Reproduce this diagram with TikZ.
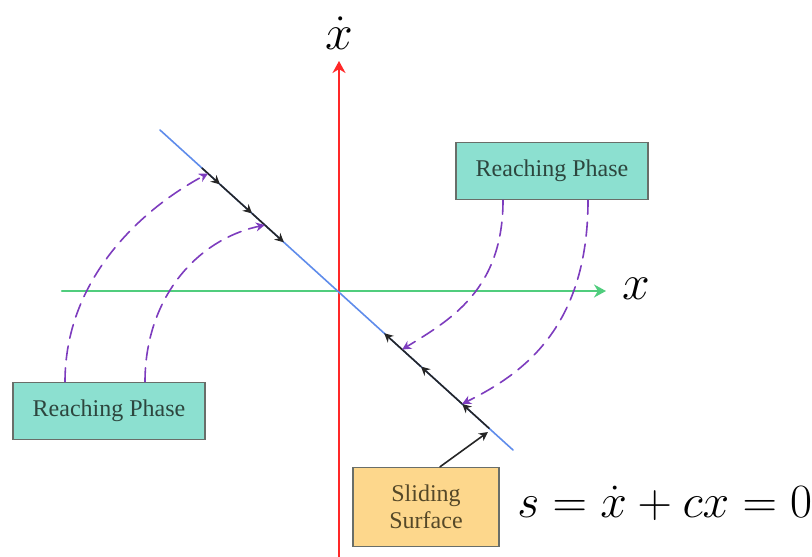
\documentclass[tikz,border=0pt]{standalone}
\usepackage{amsmath,amssymb}
\usepackage{fontspec}
\setmainfont{Liberation Serif}
\usepackage{tikz}
\usetikzlibrary{arrows.meta,calc}
\usepackage{xcolor}
\definecolor{axred}{RGB}{255,40,40}
\definecolor{axgreen}{RGB}{80,205,125}
\definecolor{surfblue}{RGB}{95,140,235}
\definecolor{reachpurple}{RGB}{125,60,190}
\definecolor{phasefill}{RGB}{140,224,208}
\definecolor{slidefill}{RGB}{253,215,140}
\definecolor{boxedge}{RGB}{105,110,105}
\definecolor{phasetext}{RGB}{45,70,62}
\definecolor{slidetext}{RGB}{85,72,40}

\begin{document}
\begin{tikzpicture}[x=0.5pt,y=-0.5pt,>={Stealth[length=4.5pt,width=4.5pt]},line cap=round,
  phasebox/.style={draw=boxedge,fill=phasefill,line width=0.7pt,minimum width=96pt,minimum height=28.5pt,inner sep=0pt,text=phasetext,font=\fontsize{12}{14}\selectfont},
  slidebox/.style={draw=boxedge,fill=slidefill,line width=0.7pt,minimum width=73pt,minimum height=39.5pt,inner sep=0pt,align=center,text=slidetext,font=\fontsize{12}{13.5}\selectfont},
  flow/.style={black!85,line width=0.8pt},
  reach/.style={reachpurple,line width=0.8pt,dash pattern=on 7pt off 4pt}]
\useasboundingbox (0,0) rectangle (812,556);
\coordinate (xl) at (62,291);
\coordinate (xr) at (606,291);
\coordinate (yb) at (339,560);
\coordinate (yt) at (339,61);
\coordinate (sA) at (160,130);
\coordinate (sB) at (513,450);
\draw[axgreen,line width=1.1pt,-{Stealth[length=6pt,width=6.5pt]}] (xl) -- (xr);
\draw[axred,line width=1.1pt,-{Stealth[length=6pt,width=6.5pt]}] (yb) -- (yt);
\node[font=\Huge] (xlab) at (636,289) {$x$};
\node[font=\Huge] (ylab) at (339,33) {$\dot{x}$};
\draw[surfblue,line width=0.8pt] (sA) -- (sB);
\coordinate (u0) at ($(sA)!0.119!(sB)$);
\coordinate (u1) at ($(sA)!0.170!(sB)$);
\coordinate (u2) at ($(sA)!0.261!(sB)$);
\coordinate (u3) at ($(sA)!0.351!(sB)$);
\coordinate (d0) at ($(sA)!0.932!(sB)$);
\coordinate (d1) at ($(sA)!0.856!(sB)$);
\coordinate (d2) at ($(sA)!0.739!(sB)$);
\coordinate (d3) at ($(sA)!0.635!(sB)$);
\draw[flow,->] (u0) -- (u1);
\draw[flow,->] (u1) -- (u2);
\draw[flow,->] (u2) -- (u3);
\draw[flow,->] (d0) -- (d1);
\draw[flow,->] (d1) -- (d2);
\draw[flow,->] (d2) -- (d3);
\node[phasebox] (reachL) at (109,411) {Reaching Phase};
\node[phasebox] (reachR) at (552,171) {Reaching Phase};
\node[slidebox] (slide) at (426,507) {Sliding\\Surface};
\node[font=\Huge,scale=0.96,anchor=west,inner sep=0pt] (eq) at (517,503) {$s=\dot{x}+cx=0$};
\coordinate (hitA) at ($(sA)!0.136!(sB)$);
\coordinate (hitB) at ($(sA)!0.297!(sB)$);
\coordinate (hitC) at ($(sA)!0.686!(sB)$);
\coordinate (hitD) at ($(sA)!0.856!(sB)$);
\coordinate (tipS) at (488,432);
\draw[reach,->] ($(reachL.north)+(-44,0)$) .. controls (65,280) and (140,210) .. (hitA);
\draw[reach,->] ($(reachL.north)+(36,0)$) .. controls (145,300) and (195,240) .. (hitB);
\draw[reach,->] ($(reachR.south)+(-49,0)$) .. controls (503,290) and (450,320) .. (hitC);
\draw[reach,->] ($(reachR.south)+(36,0)$) .. controls (588,330) and (520,375) .. (hitD);
\draw[flow,->] ($(slide.north)+(14,0)$) -- (tipS);
\end{tikzpicture}
\end{document}
